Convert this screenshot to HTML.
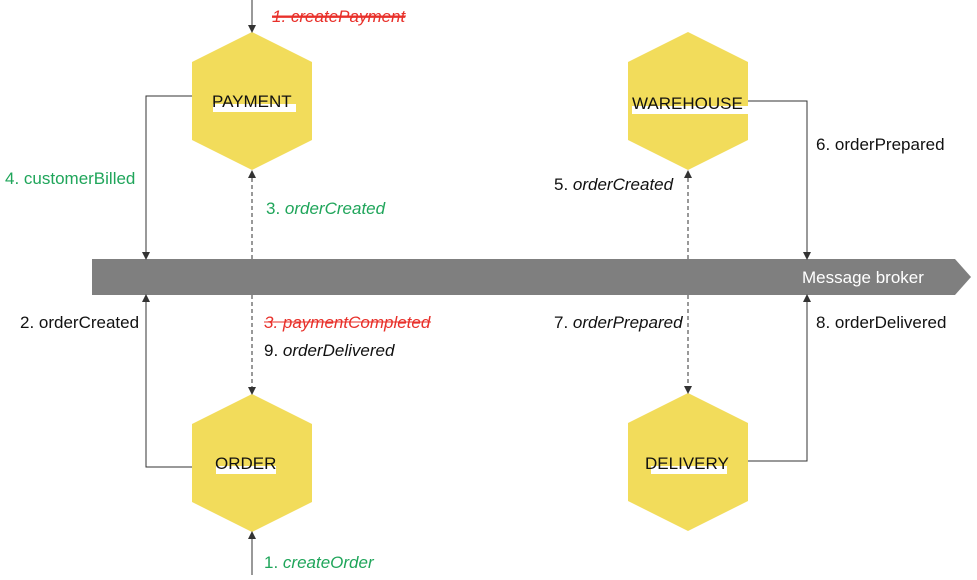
<!DOCTYPE html>
<html><head><meta charset="utf-8"><style>
html,body{margin:0;padding:0;background:#fff;}
svg text{font-family:"Liberation Sans Narrow","Liberation Sans",sans-serif;font-size:17px;}
</style></head><body>
<svg width="977" height="575" viewBox="0 0 977 575" xmlns="http://www.w3.org/2000/svg">
<defs>
<marker id="a" markerWidth="8" markerHeight="8" refX="7" refY="4" orient="auto" markerUnits="userSpaceOnUse">
<path d="M0,0 L8,4 L0,8 z" fill="#333"/></marker>
</defs>
<!-- broker -->
<polygon points="92,259 955,259 971,277 955,295 92,295" fill="#7f7f7f"/>
<text x="802" y="283" fill="#fff">Message broker</text>
<!-- hexagons -->
<g fill="#f2dc5b">
<polygon points="252,32 312,62 312,140 252,170 192,140 192,62"/>
<polygon points="688,32 748,62 748,140 688,170 628,140 628,62"/>
<polygon points="252,394 312,424 312,502 252,532 192,502 192,424"/>
<polygon points="688,393 748,423 748,501 688,531 628,501 628,423"/>
</g>
<g fill="#fff">
<rect x="213" y="104" width="83" height="8"/>
<rect x="632" y="106" width="116" height="8"/>
<rect x="216" y="466" width="60" height="8"/>
<rect x="651" y="466" width="76" height="8"/>
</g>
<g fill="#111">
<text x="212" y="107">PAYMENT</text>
<text x="632" y="109">WAREHOUSE</text>
<text x="215" y="469">ORDER</text>
<text x="645" y="469">DELIVERY</text>
</g>
<!-- lines -->
<g stroke="#333" stroke-width="1" fill="none">
<line x1="252" y1="0" x2="252" y2="32" marker-end="url(#a)"/>
<polyline points="192,96 146,96 146,259" marker-end="url(#a)"/>
<polyline points="192,467 146,467 146,295" marker-end="url(#a)"/>
<line x1="252" y1="575" x2="252" y2="532" marker-end="url(#a)"/>
<line x1="252" y1="259" x2="252" y2="171" stroke-dasharray="4,3" marker-end="url(#a)"/>
<line x1="252" y1="295" x2="252" y2="394" stroke-dasharray="4,3" marker-end="url(#a)"/>
<line x1="688" y1="259" x2="688" y2="171" stroke-dasharray="4,3" marker-end="url(#a)"/>
<line x1="688" y1="295" x2="688" y2="393" stroke-dasharray="4,3" marker-end="url(#a)"/>
<polyline points="748,101 807,101 807,259" marker-end="url(#a)"/>
<polyline points="748,461 807,461 807,295" marker-end="url(#a)"/>
</g>
<!-- labels -->
<text x="272" y="22" fill="#e8302a" font-style="italic" text-decoration="line-through">1. createPayment</text>
<line x1="272" y1="16" x2="406" y2="16" stroke="#e8302a"/>
<text x="5" y="184" fill="#1fa55a">4. customerBilled</text>
<text x="266" y="214" fill="#1fa55a"><tspan>3. </tspan><tspan font-style="italic">orderCreated</tspan></text>
<text x="554" y="190" fill="#111">5. <tspan font-style="italic">orderCreated</tspan></text>
<text x="816" y="150" fill="#111">6. orderPrepared</text>
<text x="20" y="328" fill="#111">2. orderCreated</text>
<text x="264" y="328" fill="#e8302a" font-style="italic">3. paymentCompleted</text>
<line x1="264" y1="322" x2="431" y2="322" stroke="#e8302a"/>
<text x="264" y="356" fill="#111">9. <tspan font-style="italic">orderDelivered</tspan></text>
<text x="554" y="328" fill="#111">7. <tspan font-style="italic">orderPrepared</tspan></text>
<text x="816" y="328" fill="#111">8. orderDelivered</text>
<text x="264" y="568" fill="#1fa55a">1. <tspan font-style="italic">createOrder</tspan></text>
</svg>
</body></html>
